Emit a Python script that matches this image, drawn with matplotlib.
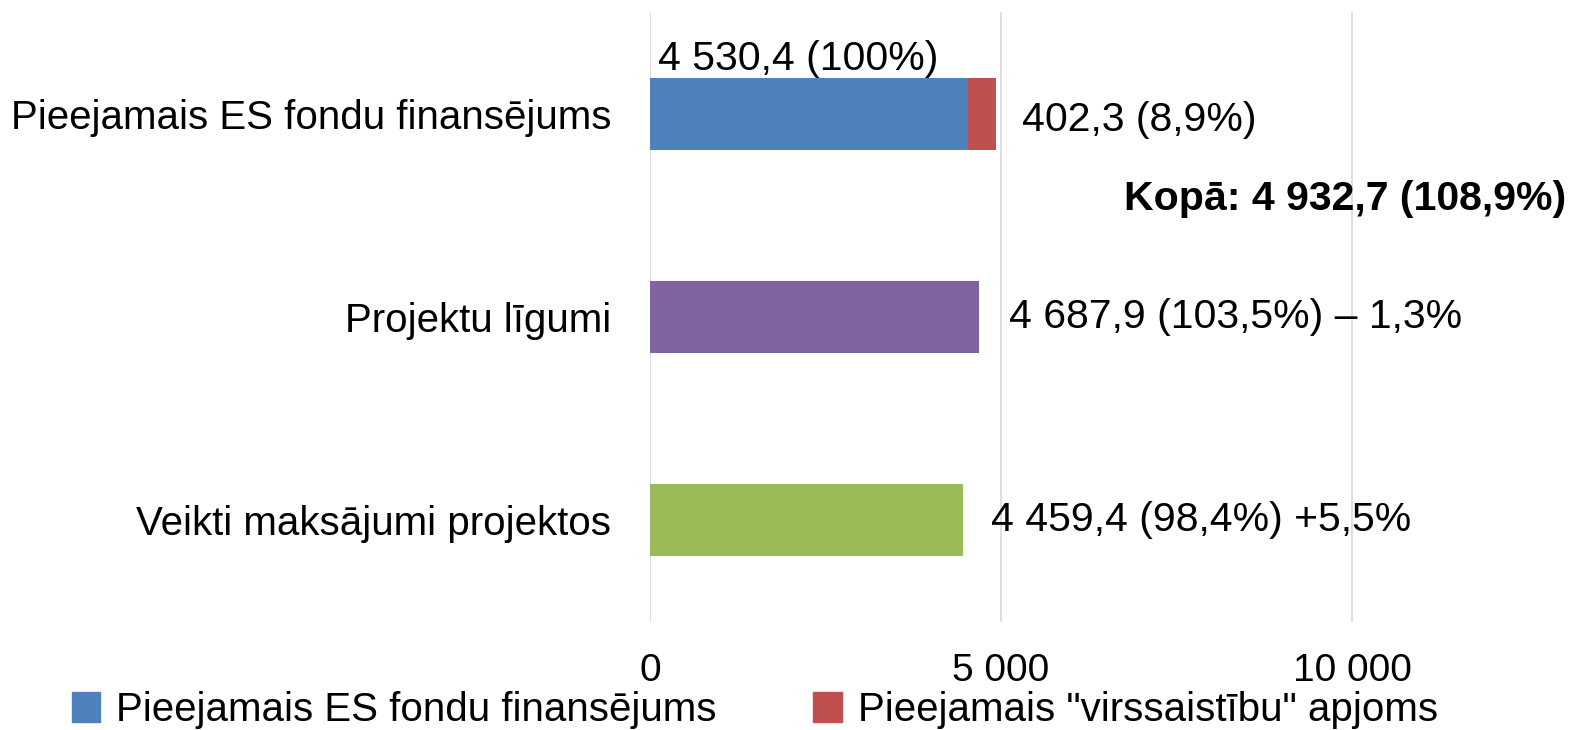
import numpy as np
import matplotlib.pyplot as plt
from matplotlib.patches import Patch

plt.rcParams['font.family'] = ['Liberation Sans', 'DejaVu Sans']

categories = ["Pieejamais ES fondu finansējums", "Projektu līgumi", "Veikti maksājumi projektos"]
base_values = [4530.4, 4687.9, 4459.4]
extra_values = [402.3, 0, 0]
bar_colors = ["#4f81bd", "#8064a2", "#9bbb59"]
extra_color = "#c0504d"
value_labels = ["4 530,4 (100%)", "4 687,9 (103,5%) – 1,3%", "4 459,4 (98,4%) +5,5%"]
extra_label = "402,3 (8,9%)"
total_label = "Kopā: 4 932,7 (108,9%)"
xticks = [0, 5000, 10000]
xtick_labels = ["0", "5 000", "10 000"]
legend_labels = ["Pieejamais ES fondu finansējums", 'Pieejamais "virssaistību" apjoms']

fig = plt.figure(figsize=(15.77, 7.30), dpi=100)
ax = fig.add_axes([650 / 1577, 1 - 622 / 730, 910 / 1577, 610 / 730])
xmax = 12963

y = np.arange(len(categories))
ax.barh(y, base_values, height=0.355, color=bar_colors, zorder=3)
ax.barh(y[:1], extra_values[:1], left=base_values[:1], height=0.355, color=extra_color, zorder=3)

ax.set_ylim(2.5, -0.5)
ax.set_xlim(0, xmax)
ax.set_xticks(xticks)
ax.set_xticklabels(xtick_labels)
ax.set_yticks(y)
ax.set_yticklabels(categories)
ax.tick_params(axis='both', length=0, labelsize=29)
ax.tick_params(axis='x', pad=22, labelsize=28)
ax.tick_params(axis='y', pad=28)
ax.grid(axis='x', color='#d9d9d9', linewidth=1.2, zorder=0)
for s in ax.spines.values():
    s.set_visible(False)

# data labels
fs = 29.5
ax.text(110, -0.175, value_labels[0], fontsize=fs, ha='left', va='bottom')
ax.text(base_values[0] + extra_values[0] + 360, 0.03, extra_label, fontsize=fs, ha='left', va='center')
ax.text(xmax + 90, 0.42, total_label, fontsize=fs, ha='right', va='center', fontweight='bold')
ax.text(base_values[1] + 430, 1.0, value_labels[1], fontsize=fs, ha='left', va='center')
ax.text(base_values[2] + 400, 2.0, value_labels[2], fontsize=fs, ha='left', va='center')

handles = [Patch(color=bar_colors[0]), Patch(color=extra_color)]
fig.legend(handles, legend_labels, loc='center left', bbox_to_anchor=(72 / 1577, 1 - 710 / 730),
           ncol=2, frameon=False, fontsize=29, handlelength=0.7, handleheight=0.8,
           handletextpad=0.4, columnspacing=2.4, borderaxespad=0, borderpad=0)

fig.savefig("out.png", dpi=100)
